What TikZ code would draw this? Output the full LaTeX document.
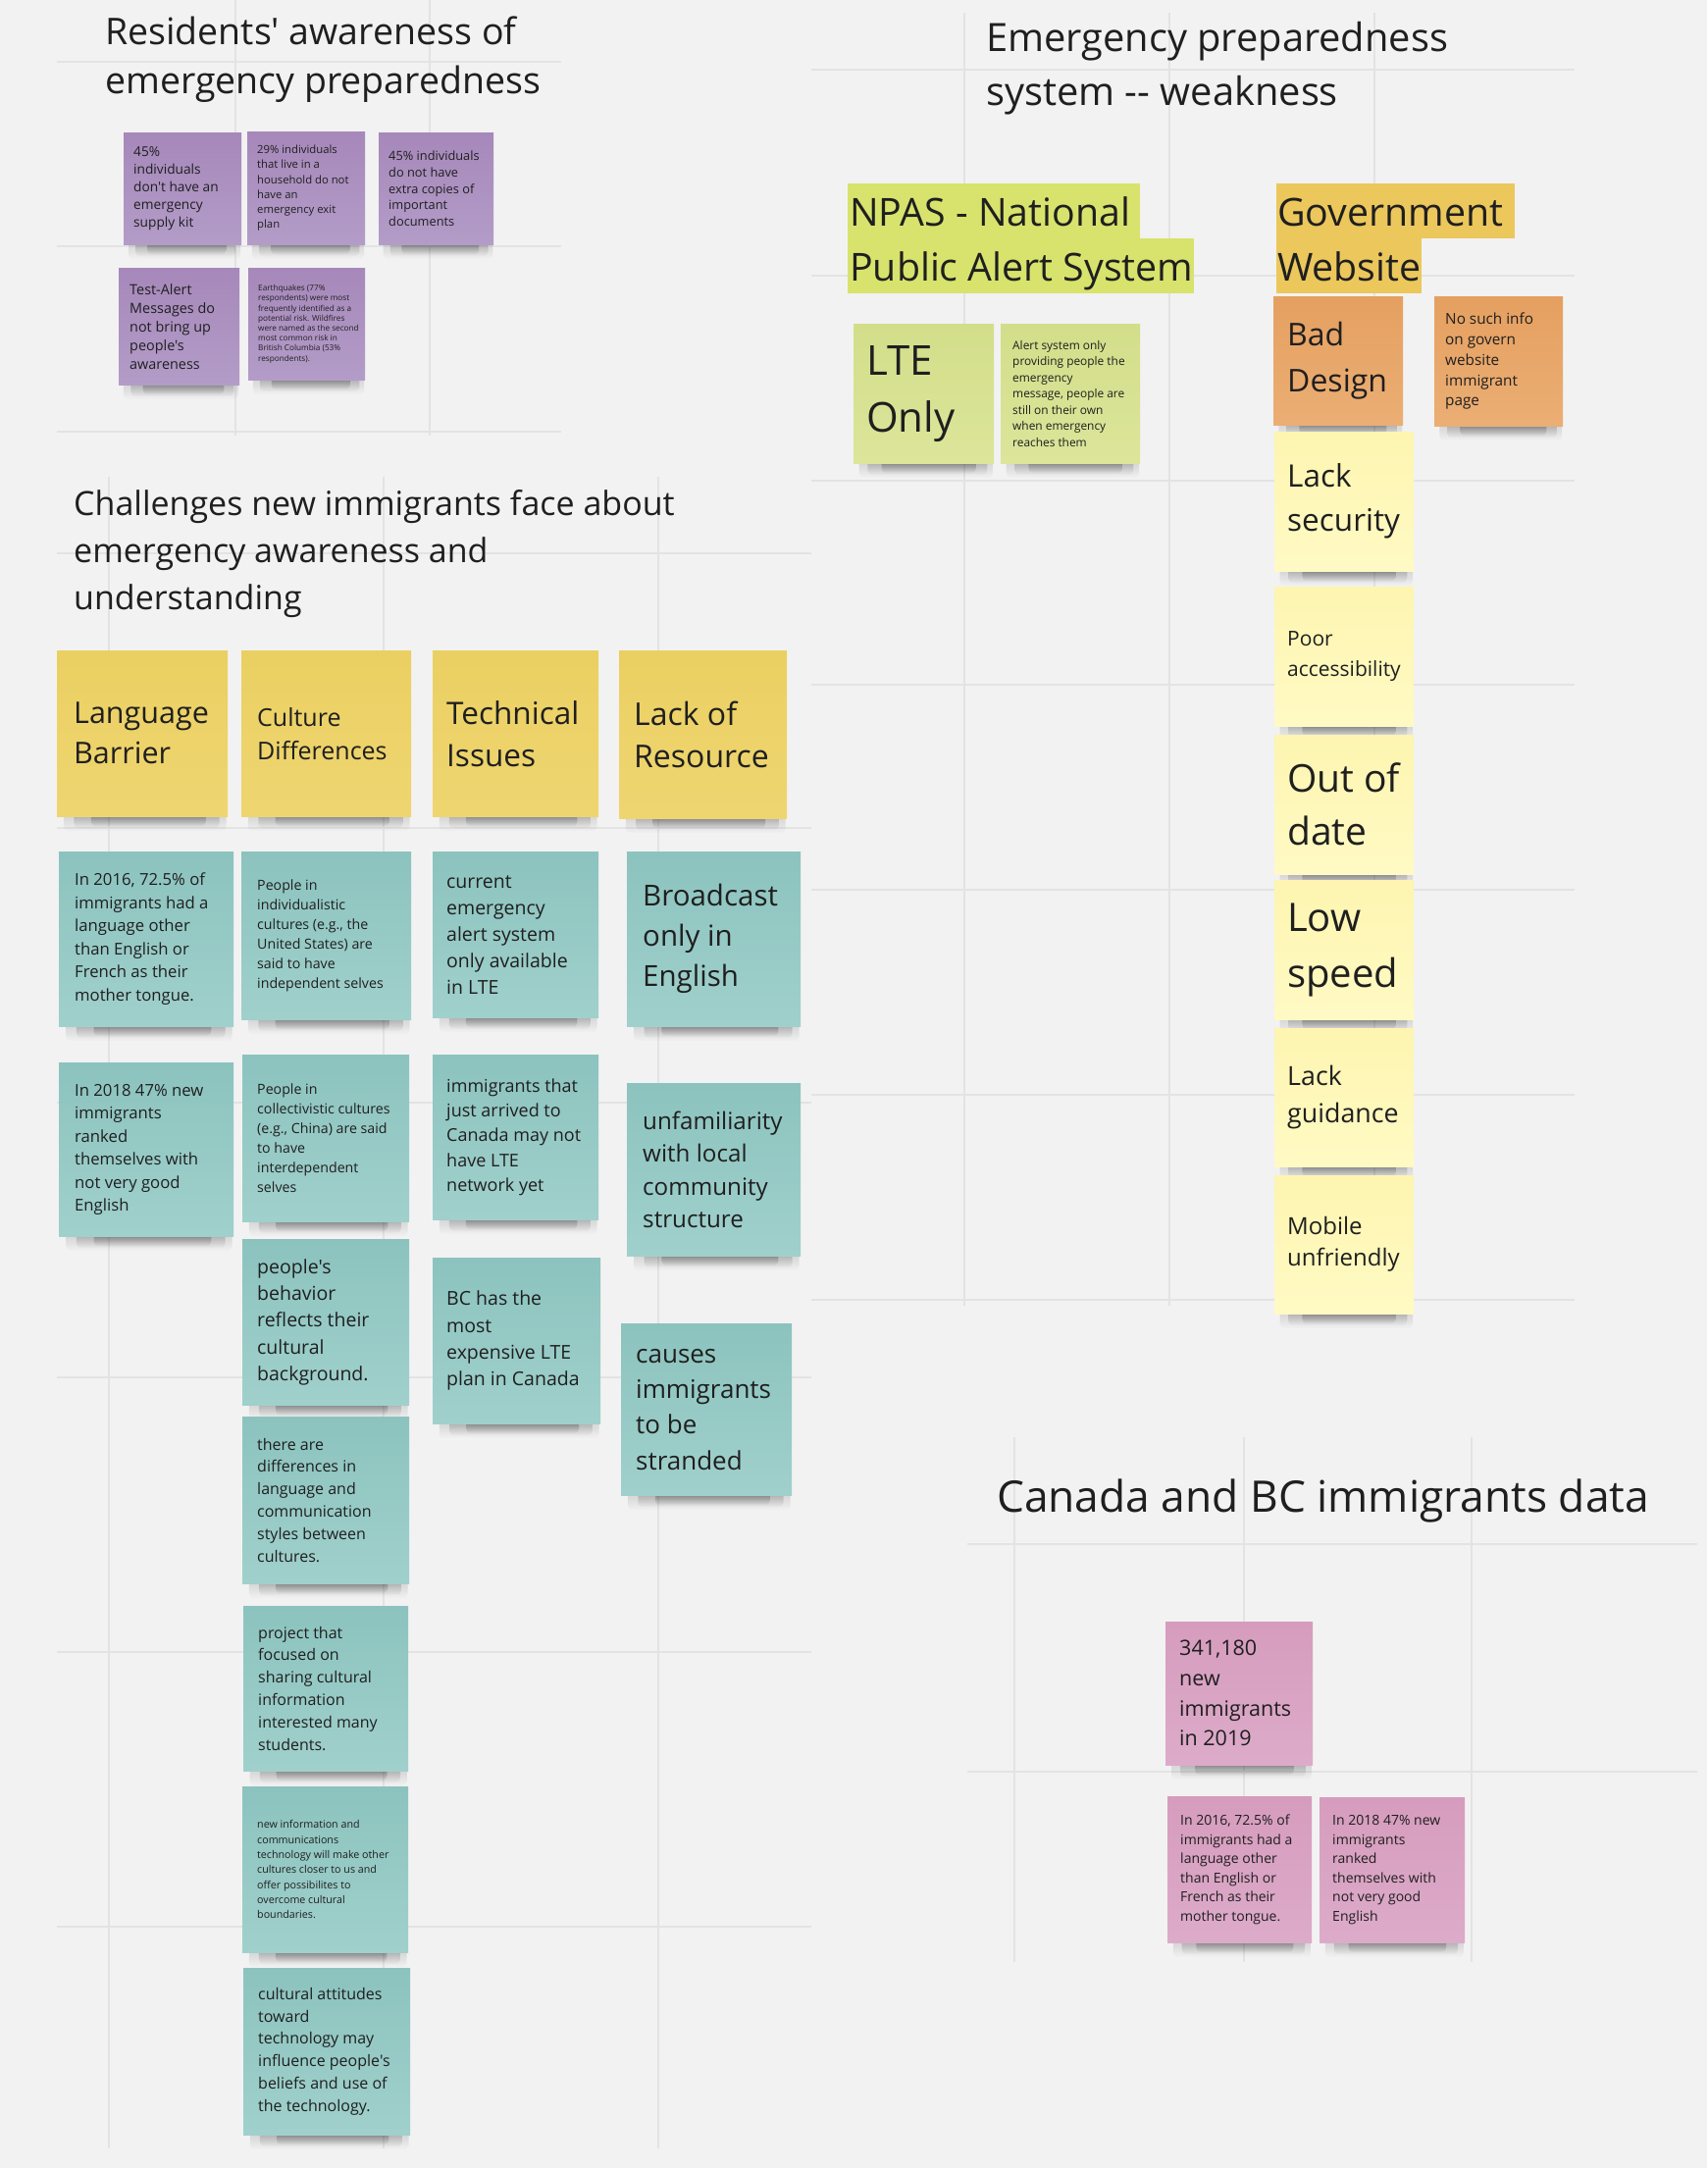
\documentclass[tikz,border=0pt]{standalone}
\usepackage{fontspec}
\newfontfamily\osf{Open Sans}
\usetikzlibrary{fadings}
\definecolor{bg}{HTML}{F2F2F2}
\definecolor{gridc}{HTML}{E3E3E3}
\definecolor{ink}{HTML}{1F1F1F}
\definecolor{purA}{HTML}{A688BA}\definecolor{purB}{HTML}{B39CC8}
\definecolor{limeA}{HTML}{D3DE8A}\definecolor{limeB}{HTML}{DCE59A}
\definecolor{limeH}{HTML}{D7E36C}
\definecolor{goldH}{HTML}{EBC75C}
\definecolor{orA}{HTML}{E5A060}\definecolor{orB}{HTML}{EBAE74}
\definecolor{lyA}{HTML}{FDF5B0}\definecolor{lyB}{HTML}{FFFAC4}
\definecolor{yhA}{HTML}{EAD062}\definecolor{yhB}{HTML}{EFD570}
\definecolor{tlA}{HTML}{8CC3BE}\definecolor{tlB}{HTML}{A0D0CC}
\definecolor{pkA}{HTML}{D69CBD}\definecolor{pkB}{HTML}{DDABCA}
\tikzfading[name=shdown, top color=transparent!0, bottom color=transparent!100]
\pgfdeclarelayer{gridlayer}\pgfdeclarelayer{shadelayer}
\pgfsetlayers{gridlayer,shadelayer,main}
\newcommand\fs[2]{\osf\fontsize{#1}{#2}\selectfont}
\tikzset{
 sticky/.style={rectangle, inner sep=0pt, anchor=north west},
 stext/.style={inner sep=0pt, align=left, text=ink, anchor=west},
 purple/.style={top color=purA, bottom color=purB},
 lime/.style={top color=limeA, bottom color=limeB},
 orange/.style={top color=orA, bottom color=orB},
 lyellow/.style={top color=lyA, bottom color=lyB},
 yhead/.style={top color=yhA, bottom color=yhB},
 teal/.style={top color=tlA, bottom color=tlB},
 pink/.style={top color=pkA, bottom color=pkB},
 gridline/.style={draw=gridc, line width=2pt},
 head/.style={inner sep=0pt, anchor=base west, text=ink},
 hlbox/.style={rectangle, inner sep=0pt, anchor=north west},
 shadowband/.style={fill=black, path fading=shdown, rounded corners=5pt},
}
% name, x, y, w, h, colour style, left pad, font, text
\newcommand\stk[9]{%
 \node[sticky,#6,minimum width=#4pt,minimum height=#5pt] (#1) at (#2,#3) {};
 \node[stext,font=#8] (#1t) at ([xshift=#7pt]#1.west) {#9};
 \begin{pgfonlayer}{shadelayer}
 \fill[shadowband, opacity=.14]
   ([xshift=0.04*#4pt, yshift=4pt]#1.south west) rectangle ([xshift=-0.01*#4pt, yshift=-15pt]#1.south east);
 \fill[shadowband, opacity=.22]
   ([xshift=0.10*#4pt, yshift=4pt]#1.south west) rectangle ([xshift=-0.05*#4pt, yshift=-12pt]#1.south east);
 \fill[shadowband, opacity=.3]
   ([xshift=0.20*#4pt, yshift=4pt]#1.south west) rectangle ([xshift=-0.13*#4pt, yshift=-10pt]#1.south east);
 \end{pgfonlayer}}
\begin{document}
\begin{tikzpicture}[x=1pt,y=-1pt]
\useasboundingbox (0,0) rectangle (1740,2210);
\begin{pgfonlayer}{gridlayer}
\fill[bg] (0,0) rectangle (1740,2210);
% frame: residents
\foreach \yy in {63,251,440} \draw[gridline] (58,\yy) -- (572,\yy);
\foreach \xx in {240,438} \draw[gridline] (\xx,0) -- (\xx,444);
% frame: challenges
\foreach \yy in {564,844,1124,1404,1684,1964} \draw[gridline] (58,\yy) -- (827,\yy);
\foreach \xx in {111,391,671} \draw[gridline] (\xx,486) -- (\xx,2190);
% frame: system weakness
\foreach \yy in {71,281,490,698,907,1116,1325} \draw[gridline] (827,\yy) -- (1605,\yy);
\foreach \xx in {983,1192,1401} \draw[gridline] (\xx,13) -- (\xx,1331);
% frame: data
\foreach \yy in {1574,1806} \draw[gridline] (986,\yy) -- (1730,\yy);
\foreach \xx in {1034,1268,1500} \draw[gridline] (\xx,1465) -- (\xx,2000);
\end{pgfonlayer}

% ---------- headings
\node[head, font=\fs{37.5}{50}] (h1a) at (107,46) {Residents' awareness of};
\node[head, font=\fs{37.5}{50}] (h1b) at (107,96) {emergency preparedness};
\node[head, font=\fs{34}{48}] (h2a) at (75,525) {Challenges new immigrants face about};
\node[head, font=\fs{34}{48}] (h2b) at (75,573) {emergency awareness and};
\node[head, font=\fs{34}{48}] (h2c) at (75,621) {understanding};
\node[head, font=\fs{39.8}{54}] (h3a) at (1005,53) {Emergency preparedness};
\node[head, font=\fs{39.8}{54}] (h3b) at (1005,108) {system -- weakness};
\node[head, font=\fs{44.3}{56}] (h4) at (1016,1541) {Canada and BC immigrants data};

% ---------- highlighted category titles
\node[hlbox, fill=limeH, minimum width=298pt, minimum height=56pt] (npasA) at (864,187) {};
\node[hlbox, fill=limeH, minimum width=353pt, minimum height=56pt] (npasB) at (864,243) {};
\node[head, font=\fs{39.3}{56}] (npasAt) at (866,230) {NPAS - National};
\node[head, font=\fs{39.3}{56}] (npasBt) at (866,286) {Public Alert System};
\node[hlbox, fill=goldH, minimum width=243pt, minimum height=56pt] (govA) at (1301,187) {};
\node[hlbox, fill=goldH, minimum width=148pt, minimum height=56pt] (govB) at (1301,243) {};
\node[head, font=\fs{39.3}{56}] (govAt) at (1302,230) {Government};
\node[head, font=\fs{39.3}{56}] (govBt) at (1302,286) {Website};

% ---------- residents (purple)
\stk{P1}{126}{135}{120}{114}{purple}{10}{\fs{13.7}{17.8}}{45\%\\individuals\\don't have an\\emergency\\supply kit}
\stk{P2}{252}{134}{120}{115}{purple}{10}{\fs{11.3}{15.1}}{29\% individuals\\that live in a\\household do not\\have an\\emergency exit\\plan}
\stk{P3}{386}{135}{117}{114}{purple}{10}{\fs{12.8}{16.8}}{45\% individuals\\do not have\\extra copies of\\important\\documents}
\stk{P4}{121}{273}{123}{119}{purple}{11}{\fs{14.4}{19}}{Test-Alert\\Messages do\\not bring up\\people's\\awareness}
\stk{P5}{253}{273}{119}{114}{purple}{10}{\fs{8.2}{10.2}}{Earthquakes (77\%\\respondents) were most\\frequently identified as a\\potential risk. Wildfires\\were named as the second\\most common risk in\\British Columbia (53\%\\respondents).}

% ---------- challenges: heads
\stk{LB}{58}{663}{174}{169}{yhead}{17}{\fs{30.5}{41}}{Language\\Barrier}
\stk{CD}{246}{663}{173}{169}{yhead}{16}{\fs{25}{34}}{Culture\\Differences}
\stk{TI}{441}{663}{169}{169}{yhead}{14}{\fs{31.5}{43}}{Technical\\Issues}
\stk{LR}{631}{663}{171}{171}{yhead}{15}{\fs{32}{43}}{Lack of\\Resource}

% ---------- challenges: teal notes
\stk{T1}{60}{868}{178}{178}{teal}{16}{\fs{16.7}{23.5}}{In 2016, 72.5\% of\\immigrants had a\\language other\\than English or\\French as their\\mother tongue.}
\stk{T2}{246}{868}{173}{171}{teal}{16}{\fs{14.2}{20}}{People in\\individualistic\\cultures (e.g., the\\United States) are\\said to have\\independent selves}
\stk{T3}{441}{868}{169}{169}{teal}{14}{\fs{19.5}{27}}{current\\emergency\\alert system\\only available\\in LTE}
\stk{T4}{639}{868}{177}{178}{teal}{16}{\fs{29.5}{41}}{Broadcast\\only in\\English}
\stk{T5}{60}{1083}{178}{177}{teal}{16}{\fs{16.7}{23.5}}{In 2018 47\% new\\immigrants\\ranked\\themselves with\\not very good\\English}
\stk{T6}{247}{1075}{170}{170}{teal}{15}{\fs{14.2}{20}}{People in\\collectivistic cultures\\(e.g., China) are said\\to have\\interdependent\\selves}
\stk{T7}{441}{1075}{169}{168}{teal}{14}{\fs{18}{25.3}}{immigrants that\\just arrived to\\Canada may not\\have LTE\\network yet}
\stk{T8}{639}{1104}{177}{176}{teal}{16}{\fs{24.2}{33.5}}{unfamiliarity\\with local\\community\\structure}
\stk{T9}{247}{1263}{170}{169}{teal}{15}{\fs{19.5}{27.3}}{people's\\behavior\\reflects their\\cultural\\background.}
\stk{T10}{441}{1282}{171}{169}{teal}{14}{\fs{19.5}{27.2}}{BC has the\\most\\expensive LTE\\plan in Canada}
\stk{T11}{633}{1349}{174}{175}{teal}{15}{\fs{26}{36.4}}{causes\\immigrants\\to be\\stranded}
\stk{T12}{247}{1444}{170}{170}{teal}{15}{\fs{16}{22.8}}{there are\\differences in\\language and\\communication\\styles between\\cultures.}
\stk{T13}{248}{1637}{168}{168}{teal}{15}{\fs{16}{22.8}}{project that\\focused on\\sharing cultural\\information\\interested many\\students.}
\stk{T14}{247}{1821}{169}{169}{teal}{15}{\fs{10.7}{15.3}}{new information and\\communications\\technology will make other\\cultures closer to us and\\offer possibilites to\\overcome cultural\\boundaries.}
\stk{T15}{248}{2006}{170}{170}{teal}{15}{\fs{16}{22.8}}{cultural attitudes\\toward\\technology may\\influence people's\\beliefs and use of\\the technology.}

% ---------- NPAS notes
\stk{LTE}{870}{330}{143}{142}{lime}{13}{\fs{42}{58}}{LTE\\Only}
\stk{AS}{1020}{330}{142}{142}{lime}{12}{\fs{11.9}{16.5}}{Alert system only\\providing people the\\emergency\\message, people are\\still on their own\\when emergency\\reaches them}

% ---------- Government website notes
\stk{BD}{1298}{302}{132}{131}{orange}{14}{\fs{32}{47}}{Bad\\Design}
\stk{NS}{1462}{302}{131}{132}{orange}{11}{\fs{15.3}{20.8}}{No such info\\on govern\\website\\immigrant\\page}
\stk{LS}{1299}{440}{142}{142}{lyellow}{13}{\fs{31.5}{45}}{Lack\\security}
\stk{PA}{1299}{598}{142}{142}{lyellow}{13}{\fs{21}{30.5}}{Poor\\accessibility}
\stk{OD}{1299}{749}{142}{142}{lyellow}{13}{\fs{39}{54}}{Out of\\date}
\stk{LSP}{1299}{897}{142}{142}{lyellow}{13}{\fs{40}{57}}{Low\\speed}
\stk{LG}{1299}{1048}{142}{141}{lyellow}{13}{\fs{26.8}{37.8}}{Lack\\guidance}
\stk{MU}{1299}{1198}{142}{141}{lyellow}{13}{\fs{24}{32}}{Mobile\\unfriendly}

% ---------- data (pink)
\stk{K1}{1188}{1653}{150}{146}{pink}{14}{\fs{21.5}{30.7}}{341,180\\new\\immigrants\\in 2019}
\stk{K2}{1190}{1831}{147}{149}{pink}{13}{\fs{14}{19.5}}{In 2016, 72.5\% of\\immigrants had a\\language other\\than English or\\French as their\\mother tongue.}
\stk{K3}{1345}{1832}{148}{148}{pink}{13}{\fs{14}{19.5}}{In 2018 47\% new\\immigrants\\ranked\\themselves with\\not very good\\English}
\end{tikzpicture}
\end{document}
